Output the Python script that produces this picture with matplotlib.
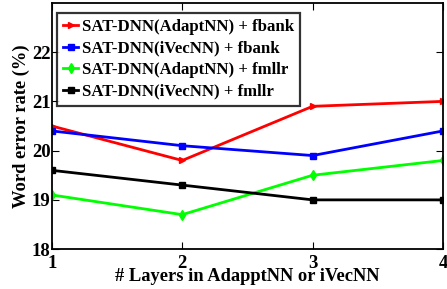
import matplotlib
matplotlib.use("Agg")
import matplotlib.pyplot as plt

plt.rcParams['font.family'] = ['Liberation Serif', 'DejaVu Serif']
plt.rcParams['font.weight'] = 'bold'
plt.rcParams['axes.labelweight'] = 'bold'

layers = [1, 2, 3, 4]
adapt_fbank = [20.5, 19.8, 20.9, 21.0]
ivec_fbank = [20.4, 20.1, 19.9, 20.4]
adapt_fmllr = [19.1, 18.7, 19.5, 19.8]
ivec_fmllr = [19.6, 19.3, 19.0, 19.0]

fig = plt.figure(figsize=(4.47, 2.89), dpi=100)
ax = fig.add_axes([0.116, 0.138, 0.875, 0.852])

ax.plot(layers, adapt_fbank, color="red", marker=">", markersize=5, linewidth=2, label="SAT-DNN(AdaptNN) + fbank")
ax.plot(layers, ivec_fbank, color="blue", marker="s", markersize=4, linewidth=2, label="SAT-DNN(iVecNN) + fbank")
ax.plot(layers, adapt_fmllr, color="#00ff00", marker="d", markersize=5, linewidth=2, label="SAT-DNN(AdaptNN) + fmllr")
ax.plot(layers, ivec_fmllr, color="black", marker="s", markersize=4, linewidth=2, label="SAT-DNN(iVecNN) + fmllr")

ax.set_xlim(1, 4)
ax.set_ylim(18, 23)
ax.set_xticks(layers)
ax.set_yticks([18, 19, 20, 21, 22])
ax.tick_params(direction="in", top=True, right=True, labelsize=13.5, length=5)
ax.tick_params(axis="x", pad=4)
ax.tick_params(axis="y", pad=1)
for s in ax.spines.values():
    s.set_linewidth(1.3)
ax.set_xlabel("# Layers in AdapptNN or iVecNN", fontsize=13.3, labelpad=-3)
ax.set_ylabel("Word error rate (%)", fontsize=13.3, labelpad=1)

leg = ax.legend(loc="upper left", bbox_to_anchor=(0.013, 0.96), borderaxespad=0,
                fontsize=12.1, frameon=True, fancybox=False,
                edgecolor="black", handlelength=0.9, handletextpad=0.2,
                borderpad=0.37, labelspacing=0.33)
leg.get_frame().set_linewidth(1.6)

fig.savefig("out.png", dpi=100)
